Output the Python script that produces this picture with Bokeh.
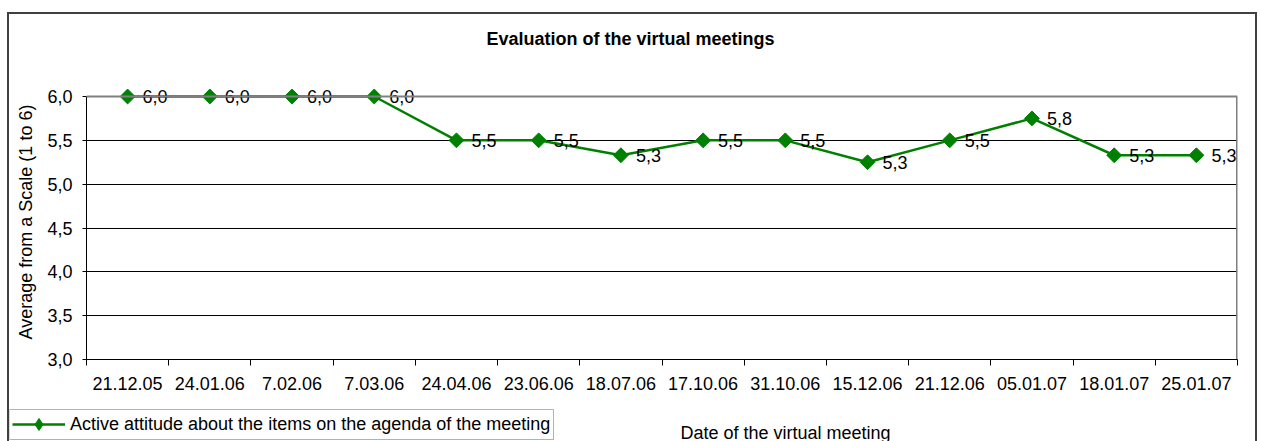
import math
from bokeh.plotting import figure
from bokeh.layouts import column
from bokeh.models import (FixedTicker, Label, Legend, LegendItem, Span, Range1d,
                          BoxAnnotation, CustomJSTickFormatter, ColumnDataSource)
from bokeh.embed import file_html
from bokeh.resources import INLINE
from bokeh.core.properties import value

# ---- data ----
dates = ["21.12.05", "24.01.06", "7.02.06", "7.03.06", "24.04.06", "23.06.06",
         "18.07.06", "17.10.06", "31.10.06", "15.12.06", "21.12.06", "05.01.07",
         "18.01.07", "25.01.07"]
scores = [6.0, 6.0, 6.0, 6.0, 5.5, 5.5, 5.33, 5.5, 5.5, 5.25, 5.5, 5.75, 5.33, 5.33]
y_ticks = [3.0, 3.5, 4.0, 4.5, 5.0, 5.5, 6.0]
series_name = "Active attitude about the items on the agenda of the meeting"
title_text = "Evaluation of the virtual meetings"
x_title = "Date of the virtual meeting"
y_title = "Average from a Scale (1 to 6)"

FONT = "Liberation Sans"
GREEN = "#008000"
GRAY = "#808080"


def fmt(v):
    r = math.floor(v * 10 + 0.5) / 10
    return f"{r:.1f}".replace(".", ",")


def no_align(fig):
    try:
        fig.frame_align = False
    except Exception:
        pass


n = len(dates)
xs = [i + 0.5 for i in range(n)]
src = ColumnDataSource(dict(x=xs, y=scores, lab=[fmt(v) for v in scores]))

CW = 1246          # content width inside the outer border
PLOT_H = 263       # pixel height of the value area (3.0 .. 6.0)
HEAD = 12          # extra room above 6.0 so the top value labels are not clipped
y_lo, y_hi = y_ticks[0], y_ticks[-1]
y_pad = HEAD * (y_hi - y_lo) / PLOT_H

# ---------- title strip ----------
t = figure(width=CW, height=56, output_backend="svg", toolbar_location=None,
           x_range=(0, CW), y_range=(0, 56), x_axis_type=None, y_axis_type=None,
           min_border=0, title=None)
no_align(t)
t.outline_line_color = None
t.add_layout(Label(x=621, y=32, text=title_text, text_align="center",
                   text_baseline="middle", text_font=FONT, text_font_size="18px",
                   text_font_style="bold", text_color="black"))

# ---------- main chart ----------
p = figure(width=CW, height=330, output_backend="svg", toolbar_location=None,
           x_range=(0, n), y_range=(y_lo, y_hi + y_pad), title=None,
           min_border_left=77, min_border_right=18, min_border_top=26 - HEAD,
           min_border_bottom=41)
no_align(p)
p.background_fill_color = "white"
p.border_fill_color = "white"
p.outline_line_color = None

p.xaxis.ticker = FixedTicker(ticks=xs, minor_ticks=list(range(n + 1)))
p.xaxis.formatter = CustomJSTickFormatter(args=dict(labels=dates),
                                          code="return labels[Math.floor(tick)];")
p.xaxis.major_tick_out = 0
p.xaxis.major_tick_in = 0
p.xaxis.minor_tick_out = 6
p.xaxis.minor_tick_in = 0
p.xaxis.minor_tick_line_color = "black"
p.xaxis.major_label_standoff = 11
p.xaxis.axis_line_color = "black"

p.yaxis.ticker = FixedTicker(ticks=y_ticks)
p.yaxis.bounds = (y_lo, y_hi)
p.yaxis.formatter = CustomJSTickFormatter(code="return tick.toFixed(1).replace('.', ',');")
p.yaxis.major_tick_out = 4
p.yaxis.major_tick_in = 0
p.yaxis.minor_tick_line_color = None
p.yaxis.major_label_standoff = 10
p.yaxis.axis_line_color = "black"
p.yaxis.axis_label = y_title
p.yaxis.axis_label_standoff = 8
p.yaxis.axis_label_text_font_style = "normal"

for ax in (p.xaxis[0], p.yaxis[0]):
    ax.major_label_text_font = FONT
    ax.major_label_text_font_size = "18px"
    ax.major_label_text_color = "black"
    ax.axis_label_text_font = FONT
    ax.axis_label_text_font_size = "18px"
    ax.axis_label_text_color = "black"

p.xgrid.grid_line_color = None
p.ygrid.ticker = FixedTicker(ticks=y_ticks[1:-1])
p.ygrid.grid_line_color = "black"
p.ygrid.grid_line_width = 1

# plot-area border (top and right, grey)
p.add_layout(Span(location=y_hi, dimension="width", line_color=GRAY, line_width=2))
p.segment(x0=[n], y0=[y_lo], x1=[n], y1=[y_hi], line_color=GRAY, line_width=3)

line_kw = dict(line_color=GREEN, line_width=2.5)
p.line("x", "y", source=src, **line_kw)
p.scatter("x", "y", source=src, marker="square", angle=math.pi / 4, size=10.5,
          fill_color=GREEN, line_color=GREEN)
p.text("x", "y", text="lab", source=src, x_offset=15, text_baseline="middle",
       text_align="left", text_font=value(FONT), text_font_size="18px",
       text_color="black")

# ---------- bottom strip: legend + x title ----------
b = figure(width=CW, height=41, output_backend="svg", toolbar_location=None,
           x_range=(0, CW), y_range=(0, 41), x_axis_type=None, y_axis_type=None,
           min_border=0, title=None)
no_align(b)
b.outline_line_color = None
b.extra_x_ranges = {"hide": Range1d(0, n)}
b.extra_y_ranges = {"hide": Range1d(y_hi + 10, y_hi + 11)}
lr = b.line("x", "y", source=src, x_range_name="hide", y_range_name="hide", **line_kw)
sr = b.scatter("x", "y", source=src, x_range_name="hide", y_range_name="hide",
               marker="diamond", size=12, fill_color=GREEN, line_color=GREEN)
legend = Legend(items=[LegendItem(label=series_name, renderers=[lr, sr])],
                location=(3, 2), orientation="vertical",
                border_line_color=None, background_fill_alpha=0,
                label_text_font=FONT, label_text_font_size="18px",
                label_text_color="black", glyph_width=53, glyph_height=30,
                label_standoff=5, padding=0, margin=0, spacing=0,
                label_height=30)
b.add_layout(legend)
b.add_layout(BoxAnnotation(left=0, right=544, bottom=2, top=32, fill_alpha=0,
                           line_color="black", line_width=1))
b.add_layout(Label(x=776, y=9, text=x_title, text_align="center",
                   text_baseline="middle", text_font=FONT, text_font_size="18px",
                   text_color="black"))

page = column(t, p, b, spacing=0,
              styles={"border": "2px solid #404040", "margin": "12px 0 0 7px"})

open("out.html", "w").write(file_html(page, INLINE))
